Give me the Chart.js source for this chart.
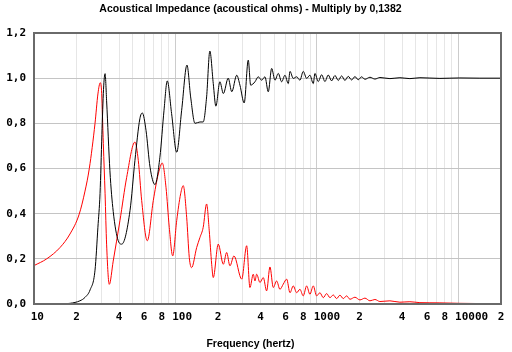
<!DOCTYPE html>
<html>
<head>
<meta charset="utf-8">
<script src="https://cdn.jsdelivr.net/npm/chart.js@4.4.0/dist/chart.umd.min.js"></script>
<style>
  html, body { margin: 0; padding: 0; background: #fff; }
</style>
</head>
<body>
<canvas id="myChart" width="512" height="352"></canvas>
<script>
// values (frequency in Hz, impedance in acoustical ohms)
var resistFreq = [15.5, 18, 21.1, 23, 24.9, 27, 28.3, 29.3, 30.2, 31, 31.8, 32.6, 34.4, 36.3, 39.4, 41.7,
  47.7, 51.7, 56, 58.3, 61.9, 66.1, 71.6, 77.6, 83, 87.5, 93.9, 102, 110.6, 120.6, 128, 137.4, 149, 157,
  166, 175, 185, 193, 206, 218, 236, 250, 271, 285.6, 306, 327, 340, 364.7, 384.7, 406.6, 429, 452.8,
  478.6, 505, 533, 563, 594, 627, 645, 680, 719, 758, 800, 846, 892, 942, 968, 1021, 1080, 1139, 1202,
  1270, 1340, 1414, 1495, 1577, 1664, 1759, 1856, 1958, 2070, 2184, 2370, 2570, 2787, 3280, 3860, 4540,
  5346, 7400, 10250, 14190, 20000];
var resistVal = [0, 0.003, 0.014, 0.03, 0.062, 0.15, 0.34, 0.49, 0.75, 0.95, 1.02, 0.90, 0.59, 0.41, 0.28, 0.265,
  0.413, 0.636, 0.82, 0.846, 0.769, 0.606, 0.529, 0.65, 0.858, 0.988, 0.843, 0.672, 0.858, 1.058, 0.917, 0.80, 0.806, 0.806,
  0.917, 1.12, 0.976, 0.876, 0.984, 0.932, 1.0, 0.94, 1.013, 0.969, 0.89, 1.08, 0.969, 0.984, 1.006, 0.991, 1.006, 0.94,
  1.043, 0.991, 1.021, 0.984, 1.013, 0.976, 1.03, 0.999, 1.006, 0.991, 1.03, 0.999, 1.013, 0.976, 1.021, 0.985, 1.015, 0.985, 1.014,
  0.988, 1.012, 0.99, 1.01, 0.99, 1.008, 0.992, 1.007, 0.993, 1.006, 0.995, 1.004, 0.996, 1.003, 0.998, 1.002, 0.998,
  1.002, 0.999, 1.001, 1.0, 1.0];

var reactFreq = [10, 12.3, 15.27, 17.96, 20.8, 22.94, 24.6, 27, 28.3, 29.4, 30.1, 30.9, 31.8, 32.6, 34.05, 36.3,
  40.5, 45.2, 51.7, 54.6, 57.7, 63.2, 69.7, 75.6, 80.7, 85.7, 90.4, 95.6, 102, 108.8, 113.5, 120, 125.2, 130,
  141.2, 149, 157, 166, 173.3, 180.3, 185, 200.6, 218, 230, 242.7, 259, 294, 318.6, 336, 354.6, 364.7, 374.8,
  395.6, 417.5, 441, 465.5, 491.2, 519, 547.6, 578, 611, 645, 680, 719, 758, 800, 846, 892, 942, 995, 1050,
  1108, 1171, 1236, 1304, 1378, 1454, 1535, 1622, 1711, 1856, 2013, 2184, 2370, 2570, 2787, 3280, 3860, 4540,
  5346, 7400, 10250, 14190, 20000];
var reactVal = [0.17, 0.2, 0.25, 0.31, 0.395, 0.5, 0.6, 0.8, 0.93, 0.98, 0.932, 0.71, 0.488, 0.265, 0.087, 0.19,
  0.369, 0.561, 0.717, 0.636, 0.458, 0.28, 0.458, 0.576, 0.624, 0.517, 0.339, 0.213, 0.369, 0.488, 0.524, 0.384, 0.206, 0.161,
  0.25, 0.295, 0.339, 0.443, 0.324, 0.176, 0.117, 0.265, 0.176, 0.228, 0.169, 0.213, 0.11, 0.258, 0.073, 0.132, 0.102, 0.132,
  0.095, 0.117, 0.058, 0.164, 0.073, 0.102, 0.065, 0.088, 0.11, 0.05, 0.08, 0.05, 0.065, 0.036, 0.08, 0.043, 0.08, 0.036, 0.05,
  0.028, 0.046, 0.028, 0.04, 0.024, 0.039, 0.024, 0.036, 0.021, 0.03, 0.018, 0.026, 0.014, 0.02, 0.011, 0.014, 0.008, 0.01,
  0.006, 0.005, 0.003, 0.002, 0.001];

var xTickLabels = [10, 20, 40, 60, 80, 100, 200, 400, 600, 800, 1000, 2000, 4000, 6000, 8000, 10000, 20000];
var yTicks = [0, 0.2, 0.4, 0.6, 0.8, 1.0, 1.2];
var decades = [10, 100, 1000, 10000];

function toPoints(xs, ys) {
  var pts = [];
  for (var i = 0; i < xs.length; i++) pts.push({ x: xs[i], y: ys[i] });
  return pts;
}

// grid lines at every 1..9 x 10^n between 10 and 20000
var gridFreqs = [];
decades.forEach(function (d) {
  for (var m = 1; m <= 9; m++) if (m * d <= 20000) gridFreqs.push(m * d);
});

// outer frame round the plot area
var framePlugin = {
  id: 'frame',
  afterDraw: function (chart) {
    var a = chart.chartArea, c = chart.ctx;
    c.save();
    c.strokeStyle = '#6a6a6a';
    c.lineWidth = 2;
    c.strokeRect(a.left, a.top, a.right - a.left, a.bottom - a.top);
    c.restore();
  }
};

var labelFont = { family: 'DejaVu Sans Mono', weight: 'bold', size: 11 };
var titleFont = { family: 'Liberation Sans', weight: 'bold', size: 10.5 };

var ctx = document.getElementById('myChart').getContext('2d');
var myChart = new Chart(ctx, {
  type: 'line',
  data: {
    datasets: [{
      label: 'resistance',
      data: toPoints(resistFreq, resistVal),
      borderColor: '#000000',
      borderWidth: 1,
      pointRadius: 0,
      cubicInterpolationMode: 'monotone'
    }, {
      label: 'reactance',
      data: toPoints(reactFreq, reactVal),
      borderColor: '#ff0000',
      borderWidth: 1,
      pointRadius: 0,
      cubicInterpolationMode: 'monotone'
    }]
  },
  options: {
    responsive: false,
    animation: false,
    devicePixelRatio: 1,
    layout: { padding: { left: 0, right: 11, top: 0, bottom: 0 } },
    plugins: {
      legend: { display: false },
      tooltip: { enabled: false },
      title: {
        display: true,
        text: 'Acoustical Impedance (acoustical ohms) - Multiply by 0,1382',
        color: '#000',
        font: titleFont,
        padding: { top: 3, bottom: 17.4 }
      },
      // axis title, centred on the whole picture as in the original
      subtitle: {
        display: true,
        position: 'bottom',
        text: 'Frequency (hertz)',
        color: '#000',
        font: titleFont,
        padding: { top: 0, bottom: 2 }
      }
    },
    scales: {
      x: {
        type: 'logarithmic',
        min: 10,
        max: 20000,
        border: { display: false },
        afterBuildTicks: function (scale) {
          scale.ticks = gridFreqs.map(function (v) { return { value: v }; });
        },
        afterFit: function (scale) { scale.height = 33.4; },
        grid: {
          drawTicks: false,
          color: function (c) {
            var v = c.tick ? c.tick.value : 0;
            return decades.indexOf(v) >= 0 ? '#cccccc' : '#e6e6e6';
          }
        },
        ticks: {
          autoSkip: false,
          maxRotation: 0,
          padding: 7,
          color: '#000',
          font: labelFont,
          callback: function (value) {
            if (xTickLabels.indexOf(value) < 0) return '';
            var s = decades.indexOf(value) >= 0 ? String(value) : String(value).charAt(0);
            // first digit sits on the grid line, the rest runs to the right
            return ' '.repeat(s.length - 1) + s;
          }
        }
      },
      y: {
        min: 0,
        max: 1.2,
        border: { display: false },
        afterBuildTicks: function (scale) {
          scale.ticks = yTicks.map(function (v) { return { value: v }; });
        },
        afterFit: function (scale) { scale.width = 34; },
        grid: { drawTicks: false, color: '#c4c4c4' },
        ticks: {
          padding: 8,
          color: '#000',
          font: labelFont,
          callback: function (value) { return value.toFixed(1).replace('.', ','); }
        }
      }
    }
  },
  plugins: [framePlugin]
});
</script>
</body>
</html>
